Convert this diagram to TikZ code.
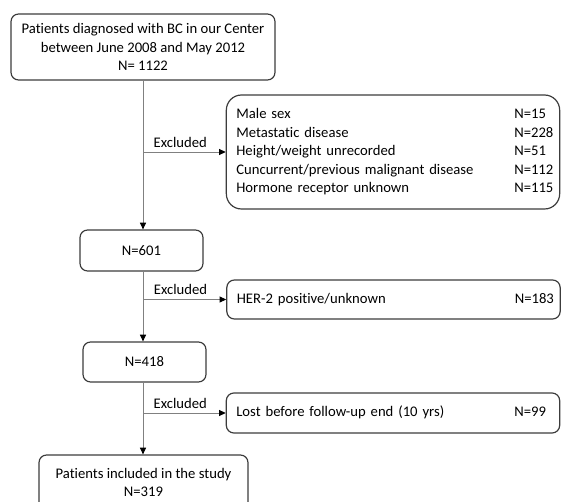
\documentclass[tikz,border=0pt]{standalone}
\usepackage{fontspec}
\setmainfont{Carlito}[Ligatures=NoCommon]
\usetikzlibrary{positioning, arrows.meta}
\definecolor{box-line}{RGB}{60,60,60}
\definecolor{conn-gray}{RGB}{128,128,128}

\begin{document}
\begin{tikzpicture}
    [x=0.75pt, y=-0.75pt,
    every node/.style = {font=\fontsize{11}{13.9}\selectfont},
    rect/.style = {rectangle, draw=box-line, line width=0.9pt, align=center,
            inner sep=0pt, rounded corners=0.2cm},
    excl/.style = {rectangle, draw=box-line, line width=0.9pt, align=left,
            text width=235pt, inner xsep=7.5pt, inner ysep=0pt, rounded corners=0.2cm},
    conn/.style = {draw=conn-gray, line width=0.7pt,
            -{Triangle[length=5pt, width=4.5pt, color=black]}},
    lbl/.style = {above, inner sep=3pt, pos=0.45},
    ]
    \useasboundingbox (0,0) rectangle (561,502);

	\node[rect, minimum width=198pt, minimum height=49.5pt] (start) at (143, 47)
	    {Patients diagnosed with BC in our Center\\between June 2008 and May 2012\\N= 1122};
	\node[excl, minimum height=85.5pt, rounded corners=0.4cm] (excl1) at (393, 152)
	    {\begin{tabular}{@{}p{208.5pt}@{}l@{}}
	    Male sex & N=15\\
	    Metastatic disease & N=228\\
	    Height/weight unrecorded & N=51\\
	    Cuncurrent/previous malignant disease & N=112\\
	    Hormone receptor unknown & N=115
	    \end{tabular}};
	\node[rect, minimum width=92.25pt, minimum height=30.75pt] (n601) at (141.5, 250.5) {N=601};
	\node[excl, minimum height=29.25pt] (excl2) at (393.5, 299.5)
	    {\begin{tabular}{@{}p{208.5pt}@{}l@{}}HER-2 positive/unknown & N=183\end{tabular}};
	\node[rect, minimum width=92.25pt, minimum height=30pt] (n418) at (144.5, 362) {N=418};
	\node[excl, minimum height=30pt] (excl3) at (393, 413)
	    {\begin{tabular}{@{}p{208.5pt}@{}l@{}}Lost before follow-up end (10 yrs) & N=99\end{tabular}};
	\node[rect, minimum width=156.75pt, minimum height=41.25pt] (final) at (143.5, 482.5)
	    {Patients included in the study\\N=319};

    \draw[conn] (start.south) -- (start.south |- n601.north);
    \draw[conn] (start.south |- excl1.west) -- (excl1.west) node[lbl] {Excluded};
    \draw[conn] (start.south |- n601.south) -- (start.south |- n418.north);
    \draw[conn] (start.south |- excl2.west) -- (excl2.west) node[lbl] {Excluded};
    \draw[conn] (start.south |- n418.south) -- (start.south |- final.north);
    \draw[conn] (start.south |- excl3.west) -- (excl3.west) node[lbl] {Excluded};
\end{tikzpicture}
\end{document}
